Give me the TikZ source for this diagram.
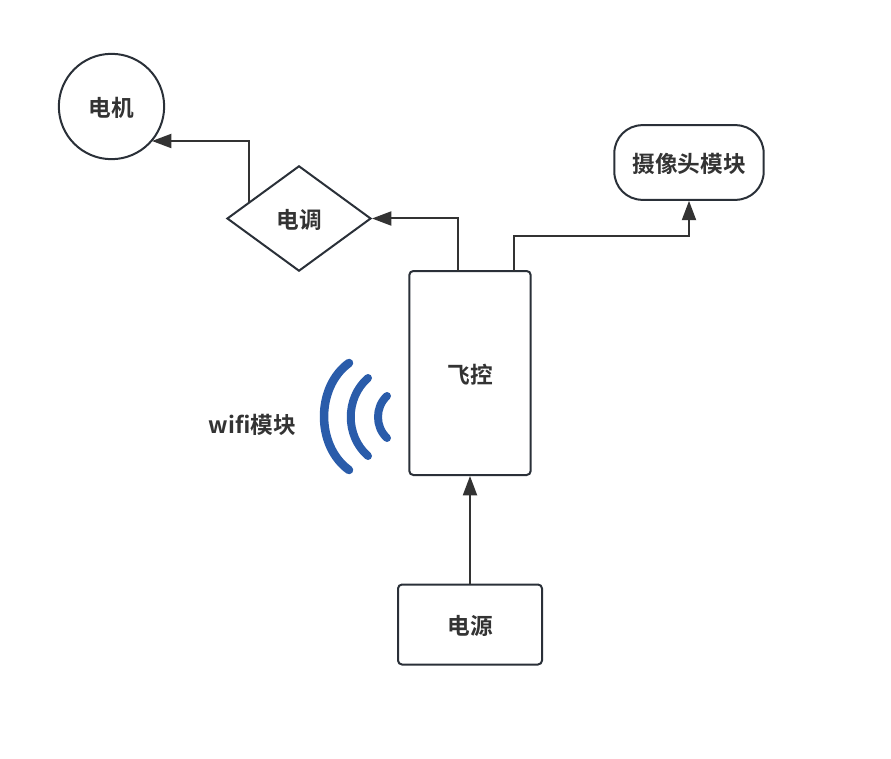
\documentclass[tikz,border=0pt]{standalone}
\usepackage{fontspec}
\setmainfont{Noto Sans CJK SC}[BoldFont={* Bold}]
\usetikzlibrary{shapes.geometric,arrows.meta}
\definecolor{ink}{HTML}{2A3038}
\definecolor{txt}{HTML}{333333}
\definecolor{wifi}{HTML}{2A5CAA}
\tikzset{x=0.75pt,y=-0.75pt,
  lbl/.style={text=txt,font=\fontsize{17pt}{18pt}\bfseries,inner sep=0pt},
  shp/.style={draw=ink,line width=1.5pt,fill=white},
  conn/.style={draw=txt,line width=1.5pt,-{Triangle[length=14.5pt,width=10.5pt]}},
  wave/.style={draw=wifi,line cap=round}}
\begin{document}
\begin{tikzpicture}
\useasboundingbox (0,0) rectangle (891,759);
\coordinate (fc1) at (458,271);
\coordinate (fc2) at (514,271);
\coordinate (e1) at (249,202);
\node[shp,circle,minimum size=79pt,inner sep=0pt,lbl,draw=ink] (motor) at (111.5,106.5) {};
\node[lbl] (motorlabel) at (111.5,107.5) {电机};
\node[shp,diamond,aspect=1.38,minimum width=108pt,minimum height=79pt,inner sep=0pt,lbl,draw=ink] (esc) at (299,218.5) {};
\node[lbl] (esclabel) at (299,220) {电调};
\node[shp,rounded corners=21pt,minimum width=112pt,minimum height=56pt,inner sep=0pt,lbl,draw=ink] (cam) at (689,162.5) {};
\node[lbl] (camlabel) at (689,163.5) {摄像头模块};
\node[shp,rounded corners=3pt,minimum width=91pt,minimum height=153pt,inner sep=0pt,lbl,draw=ink] (fc) at (470,373) {};
\node[lbl] (fclabel) at (470.5,375) {飞控};
\node[shp,rounded corners=3pt,minimum width=108pt,minimum height=60pt,inner sep=0pt,lbl,draw=ink] (pwr) at (470,624.5) {};
\node[lbl] (pwrlabel) at (470.5,625.5) {电源};
\node[lbl] (wifilabel) at (252.5,424.5) {wifi模块};
\draw[conn] (e1) -- (249,141) -- (152,141);
\draw[conn] (fc1) -- (458,218.5) -- (esc.east);
\draw[conn] (fc2) -- (514,236) -- (689,236) -- (cam.south);
\draw[conn] (pwr.north) -- (fc.south);
\draw[wave,line width=6.4pt] (349,363) .. controls (315.7,387) and (315.7,446) .. (349,470);
\draw[wave,line width=6pt] (368,378) .. controls (345,398) and (345,436) .. (368,456);
\draw[wave,line width=6pt] (387,396) .. controls (375,407) and (375,427) .. (387,438);
\end{tikzpicture}
\end{document}
